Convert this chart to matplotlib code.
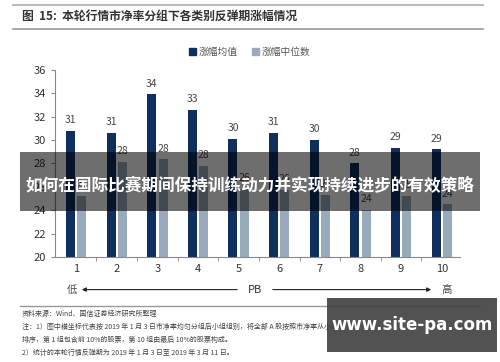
import matplotlib
matplotlib.use('Agg')
import matplotlib.pyplot as plt
import numpy as np
from matplotlib.lines import Line2D
from matplotlib.patches import Rectangle

plt.rcParams['font.family'] = ['Noto Sans CJK SC', 'DejaVu Sans']

groups = ['1', '2', '3', '4', '5', '6', '7', '8', '9', '10']
mean_vals = [30.8, 30.6, 33.9, 32.6, 30.1, 30.6, 30.0, 28.0, 29.3, 29.2]
median_vals = [25.2, 28.1, 28.35, 27.8, 25.8, 25.7, 25.3, 24.0, 25.2, 24.5]
series_names = ['涨幅均值', '涨幅中位数']

navy = '#0f2f5f'
light = '#98aabc'
axcol = '#888888'

fig = plt.figure(figsize=(5, 3.62), dpi=100)
ax = fig.add_axes([0.11, 0.29, 0.81, 0.517])

x = np.arange(1, len(groups) + 1)
w = 0.22
ax.bar(x - 0.14, mean_vals, w, color=navy, zorder=2)
ax.bar(x + 0.14, median_vals, w, color=light, zorder=2)

for xi, v in zip(x, mean_vals):
    ax.text(xi - 0.14, v + 0.5, f'{v:.0f}', ha='center', va='bottom', fontsize=7.5, color='#444444')
for xi, v in zip(x, median_vals):
    ax.text(xi + 0.14, v + 0.5, f'{v:.0f}', ha='center', va='bottom', fontsize=7.5, color='#444444')

ax.set_ylim(20, 36)
ax.set_xlim(0.48, 10.45)
ax.set_yticks(range(20, 37, 2))
ax.set_xticks(x)
ax.set_xticklabels(groups)
ax.set_xticks(np.arange(1.5, 10.5, 1), minor=True)
ax.tick_params(axis='x', which='major', length=0, labelsize=8, labelcolor='#333333', pad=5)
ax.tick_params(axis='x', which='minor', length=3, color=axcol)
ax.tick_params(axis='y', length=3, color=axcol, labelsize=8, labelcolor='#333333')
for s in ['top', 'right']:
    ax.spines[s].set_visible(False)
for s in ['left', 'bottom']:
    ax.spines[s].set_color(axcol)

# legend
handles = [Rectangle((0, 0), 1, 1, color=navy), Rectangle((0, 0), 1, 1, color=light)]
fig.legend(handles, series_names, loc='center', bbox_to_anchor=(0.5, 0.856), ncol=2,
           frameon=False, fontsize=7, handlelength=0.7, handleheight=0.7,
           columnspacing=1.5, handletextpad=0.3, labelcolor='#555555')

# title and rules
fig.add_artist(Line2D([0.026, 0.966], [0.986, 0.986], color='#bbbbbb', lw=1.5))
fig.text(0.044, 0.953, '图  15:  本轮行情市净率分组下各类别反弹期涨幅情况', fontsize=8.5,
         fontweight='bold', color='#333333', va='center')
fig.add_artist(Line2D([0.026, 0.966], [0.92, 0.92], color='#999999', lw=1.2))

# PB arrow row
fig.text(0.144, 0.2, '低', fontsize=7.5, color='#444444', ha='center', va='center')
fig.text(0.51, 0.2, 'PB', fontsize=8, color='#333333', ha='center', va='center')
fig.text(0.894, 0.2, '高', fontsize=7.5, color='#444444', ha='center', va='center')
fig.add_artist(matplotlib.patches.FancyArrowPatch((0.48, 0.2), (0.158, 0.2), transform=fig.transFigure,
               arrowstyle='-|>', mutation_scale=6, lw=0.8, color='#222222'))
fig.add_artist(matplotlib.patches.FancyArrowPatch((0.54, 0.2), (0.868, 0.2), transform=fig.transFigure,
               arrowstyle='-|>', mutation_scale=6, lw=0.8, color='#222222'))

fig.add_artist(Line2D([0.04, 0.96], [0.155, 0.155], color='#999999', lw=1.0))

notes = ['资料来源：Wind、国信证券经济研究所整理',
         '注：1）图中横坐标代表按 2019 年 1 月 3 日市净率均匀分组后小组组别，将全部 A 股按照市净率从小到大',
         '排序，第 1 组包含前 10%的股票，第 10 组由最后 10%的股票构成。',
         '2）统计的本轮行情反弹期为 2019 年 1 月 3 日至 2019 年 3 月 11 日。']
for i, t in enumerate(notes):
    fig.text(0.044, 0.133 - i * 0.036, t, fontsize=5, color='#444444', va='center')

# overlays
fig.add_artist(Rectangle((0.04, 0.417), 0.92, 0.163, transform=fig.transFigure,
                         facecolor='black', alpha=0.57, edgecolor='none', zorder=10))
fig.text(0.5, 0.487, '如何在国际比赛期间保持训练动力并实现持续进步的有效策略', fontsize=12,
         fontweight='bold', color='white', ha='center', va='center', zorder=11)
fig.add_artist(Rectangle((0.654, 0.028), 0.34, 0.149, transform=fig.transFigure,
                         facecolor='#3a3a3a', alpha=0.88, edgecolor='none', zorder=10))
fig.text(0.824, 0.102, 'www.site-pa.com', fontsize=12, fontweight='bold', color='white',
         ha='center', va='center', zorder=11, family=['DejaVu Sans'])

fig.savefig('out.png', dpi=100)
